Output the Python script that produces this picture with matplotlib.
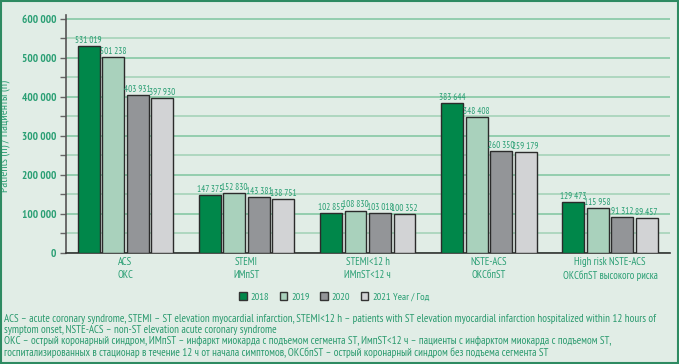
import matplotlib
matplotlib.use("Agg")
import matplotlib.pyplot as plt
import numpy as np
from matplotlib.patches import Rectangle

plt.rcParams['font.family'] = ['PT Sans Narrow', 'DejaVu Sans']

categories = ["ACS\nОКС", "STEMI\nИМпST", "STEMI<12 h\nИМпST<12 ч", "NSTE-ACS\nОКСбпST",
              "High risk NSTE-ACS\nОКСбпST высокого риска"]
years = ["2018", "2019", "2020", "2021"]
v2018 = [531019, 147375, 102855, 383644, 129473]
v2019 = [501238, 152830, 108830, 348408, 115958]
v2020 = [403931, 143381, 103018, 260350, 91312]
v2021 = [397930, 138751, 100352, 259179, 89457]
series = [v2018, v2019, v2020, v2021]
colors = ["#00874a", "#a9d1bc", "#939598", "#d2d3d5"]
yticks = [0, 100000, 200000, 300000, 400000, 500000, 600000]

green_txt = "#2a9f74"
bg = "#e1ede6"

fig = plt.figure(figsize=(6.79, 3.64), dpi=100, facecolor=bg)
ax = fig.add_axes([66/679, 1-253/364, (670-66)/679, (253-15)/364])
ax.set_facecolor(bg)

x = np.arange(len(categories))
step = 0.202
width = 0.18
for i, (vals, c) in enumerate(zip(series, colors)):
    pos = x + (i - 1.5) * step
    ax.bar(pos, vals, width=width, color=c, edgecolor="#2b2b2b", linewidth=1.0,
           label=years[i], zorder=3)
    for p, v in zip(pos, vals):
        s = f"{v:,}".replace(",", " ")
        ax.text(p, v + 3000, s, ha="center", va="bottom", fontsize=6.6,
                color=green_txt, zorder=4)

ax.set_xlim(-0.491, 4.495)
ax.set_ylim(0, 610000)
ax.set_yticks(yticks)
ax.set_yticklabels([f"{t:,}".replace(",", " ") for t in yticks], fontsize=8,
                   color=green_txt, fontweight="bold")
ax.set_yticks(np.arange(50000, 600001, 100000), minor=True)
ax.yaxis.grid(True, which="major", color="#86c8a4", linewidth=1.2, zorder=0)
ax.yaxis.grid(True, which="minor", color="#a6d3b9", linewidth=1.2, zorder=0)
ax.tick_params(axis="y", which="both", length=4, color="#666666", width=1, pad=3)
ax.set_xticks(x)
ax.set_xticklabels(categories, fontsize=7.7, color=green_txt, linespacing=1.35)
ax.tick_params(axis="x", length=0, pad=3)
for s in ["top", "right"]:
    ax.spines[s].set_visible(False)
ax.spines["left"].set_color("#555555")
ax.spines["left"].set_linewidth(1.2)
ax.spines["bottom"].set_color("#333333")
ax.spines["bottom"].set_linewidth(1.2)
ax.set_ylabel("Patients (n) / Пациенты (n)", fontsize=8.6, color=green_txt)
ax.yaxis.set_label_coords(-0.093, 0.49)

leg = fig.legend(loc="center", bbox_to_anchor=(315/679, 1-297/364), ncol=4, frameon=False,
                 fontsize=7.5, handlelength=0.7, handleheight=0.7, columnspacing=1.0,
                 handletextpad=0.4, labelcolor=green_txt)
for h in leg.legend_handles:
    h.set_edgecolor("#333333")
fig.text(393/679, 1-297/364, "Year / Год", fontsize=7.5, color=green_txt, va="center", ha="left")

notes = [
    "ACS – acute coronary syndrome, STEMI – ST elevation myocardial infarction, STEMI<12 h – patients with ST elevation myocardial infarction hospitalized within 12 hours of",
    "symptom onset, NSTE-ACS – non-ST elevation acute coronary syndrome",
    "ОКС – острый коронарный синдром, ИМпST – инфаркт миокарда с подъемом сегмента ST, ИмпST<12 ч – пациенты с инфарктом миокарда с подъемом ST,",
    "госпитализированных в стационар в течение 12 ч от начала симптомов, ОКСбпST – острый коронарный синдром без подъема сегмента ST",
]
for k, line in enumerate(notes):
    fig.text(4/679, 1-(319 + k*11.1)/364, line, fontsize=7.9, color="#2a9a6e", va="center", ha="left")

fig.patches.append(Rectangle((0.001, 0.002), 0.997, 0.995, transform=fig.transFigure,
                             fill=False, edgecolor="#2e8b62", linewidth=1.5))

fig.savefig("out.png", dpi=100, facecolor=bg)
